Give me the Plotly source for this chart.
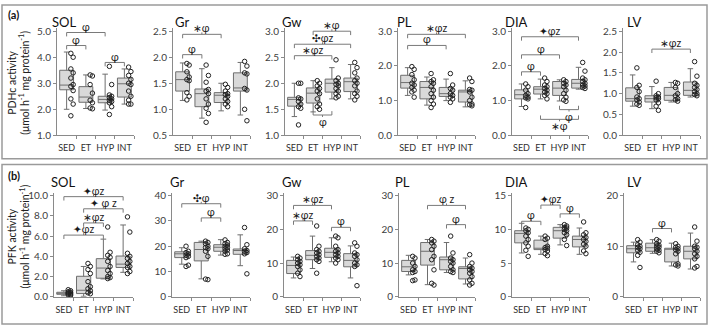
import plotly.graph_objects as go

W, H = 709, 332
GROUPS = ["SED", "ET", "HYP", "INT"]

# ---------------- (a) PDHc activity ----------------
SOL_A_Q1 = [2.75, 2.27, 2.25, 2.47]
SOL_A_MED = [2.93, 2.47, 2.38, 2.98]
SOL_A_Q3 = [3.50, 2.87, 2.50, 3.20]
SOL_A_LOW = [2.00, 2.03, 1.97, 2.20]
SOL_A_HIGH = [4.20, 3.32, 3.35, 3.55]
SOL_A_PTS = [[4.15, 4.0, 3.55, 3.4, 3.2, 2.95, 2.88, 2.72, 2.4, 2.2, 1.75],
             [3.32, 3.28, 2.95, 2.62, 2.35, 2.25, 2.05, 2.02],
             [3.65, 2.95, 2.55, 2.5, 2.45, 2.4, 2.35, 2.3, 2.25, 2.1, 1.8],
             [3.62, 3.45, 3.3, 3.15, 3.0, 2.95, 2.7, 2.5, 2.35, 2.2, 2.2]]
SOL_A_TICKS = [1.0, 2.0, 3.0, 4.0, 5.0]
SOL_A_BRK = [(0, 2, 4.95, "φ", 1), (0, 1, 4.45, "φ", 1), (2, 3, 3.80, "φ", 1)]

GR_A_Q1 = [1.35, 1.05, 1.13, 1.35]
GR_A_MED = [1.57, 1.30, 1.27, 1.41]
GR_A_Q3 = [1.72, 1.39, 1.32, 1.70]
GR_A_LOW = [1.17, 0.83, 0.97, 0.89]
GR_A_HIGH = [1.89, 1.78, 1.50, 1.90]
GR_A_PTS = [[1.88, 1.85, 1.72, 1.62, 1.57, 1.55, 1.32, 1.25, 1.18],
            [1.85, 1.65, 1.52, 1.38, 1.35, 1.3, 1.2, 1.1, 1.02, 0.92, 0.75],
            [1.48, 1.42, 1.35, 1.3, 1.28, 1.25, 1.2, 1.15, 1.1, 1.05],
            [1.92, 1.83, 1.7, 1.68, 1.4, 1.37, 1.0, 0.78]]
GR_A_TICKS = [0.5, 1.0, 1.5, 2.0, 2.5]
GR_A_BRK = [(0, 2, 2.44, "∗φ", 1), (0, 1, 2.05, "φ", 1)]

GW_A_Q1 = [1.56, 1.62, 1.83, 1.84]
GW_A_MED = [1.69, 1.81, 2.00, 2.03]
GW_A_Q3 = [1.73, 1.91, 2.08, 2.10]
GW_A_LOW = [1.36, 1.45, 1.70, 1.70]
GW_A_HIGH = [2.00, 2.05, 2.30, 2.36]
GW_A_PTS = [[2.0, 2.0, 1.72, 1.7, 1.65, 1.6, 1.55, 1.52, 1.2],
            [2.05, 2.0, 1.95, 1.9, 1.85, 1.8, 1.7, 1.6, 1.55, 1.5],
            [2.45, 2.1, 2.05, 2.0, 1.98, 1.95, 1.9, 1.85, 1.8, 1.75, 1.72],
            [2.4, 2.3, 2.2, 2.1, 2.05, 2.0, 1.95, 1.85, 1.8, 1.75, 1.68]]
GW_A_TICKS = [1.0, 1.5, 2.0, 2.5, 3.0]
GW_A_BRK = [(1, 3, 3.00, "∗φ", 1), (0, 3, 2.75, "✣φz", 1), (0, 2, 2.53, "∗φz", 1),
            (1, 2, 1.39, "φ", -1)]

PL_A_Q1 = [1.36, 1.05, 1.12, 0.96]
PL_A_MED = [1.52, 1.38, 1.20, 1.25]
PL_A_Q3 = [1.73, 1.55, 1.38, 1.30]
PL_A_LOW = [1.15, 0.87, 1.00, 0.82]
PL_A_HIGH = [1.95, 1.68, 1.62, 1.57]
PL_A_PTS = [[1.98, 1.9, 1.75, 1.6, 1.5, 1.45, 1.38, 1.3, 1.25, 1.1],
            [1.78, 1.6, 1.55, 1.5, 1.4, 1.3, 1.2, 1.1, 1.0, 0.9, 0.8],
            [1.78, 1.45, 1.35, 1.3, 1.2, 1.15, 1.1, 1.05, 0.95],
            [1.65, 1.55, 1.32, 1.3, 1.25, 1.1, 1.0, 0.9, 0.88, 0.85]]
PL_A_TICKS = [0.0, 1.0, 2.0, 3.0]
PL_A_BRK = [(0, 3, 2.91, "∗φz", 1), (0, 2, 2.59, "φ", 1)]

DIA_A_Q1 = [1.05, 1.19, 1.15, 1.36]
DIA_A_MED = [1.17, 1.33, 1.36, 1.50]
DIA_A_Q3 = [1.31, 1.40, 1.55, 1.61]
DIA_A_LOW = [0.83, 1.05, 0.99, 1.33]
DIA_A_HIGH = [1.48, 1.62, 1.60, 1.96]
DIA_A_PTS = [[1.48, 1.4, 1.3, 1.2, 1.15, 1.1, 1.08, 1.05, 0.8],
             [1.65, 1.55, 1.45, 1.4, 1.35, 1.3, 1.25, 1.2, 1.15, 1.05],
             [1.6, 1.55, 1.5, 1.45, 1.4, 1.3, 1.2, 1.1, 1.02, 0.98],
             [2.1, 1.85, 1.65, 1.6, 1.55, 1.5, 1.45, 1.42, 1.38, 1.35]]
DIA_A_TICKS = [0.0, 1.0, 2.0, 3.0]
DIA_A_BRK = [(0, 3, 2.84, "✦φz", 1), (0, 2, 2.32, "φ", 1), (0, 1, 1.83, "φ", 1),
             (2, 3, 0.74, "φ", -1), (1, 3, 0.46, "∗φ", -1)]

LV_A_Q1 = [0.82, 0.80, 0.84, 0.96]
LV_A_MED = [0.88, 0.88, 0.96, 1.08]
LV_A_Q3 = [1.14, 0.95, 1.15, 1.28]
LV_A_LOW = [0.70, 0.64, 0.80, 0.92]
LV_A_HIGH = [1.45, 1.17, 1.27, 1.60]
LV_A_PTS = [[1.62, 1.2, 1.15, 1.05, 0.92, 0.88, 0.85, 0.8, 0.75, 0.72],
            [1.3, 1.0, 0.95, 0.92, 0.9, 0.88, 0.85, 0.78, 0.7, 0.6],
            [1.27, 1.25, 1.15, 1.0, 0.95, 0.88, 0.85, 0.82],
            [1.77, 1.42, 1.25, 1.2, 1.15, 1.1, 1.05, 1.0, 0.98, 0.95]]
LV_A_TICKS = [0.0, 0.5, 1.0, 1.5, 2.0, 2.5]
LV_A_BRK = [(1, 3, 2.07, "∗φz", 1)]

# ---------------- (b) PFK activity ----------------
SOL_B_Q1 = [0.25, 0.32, 1.84, 2.90]
SOL_B_MED = [0.35, 0.65, 2.84, 3.23]
SOL_B_Q3 = [0.45, 2.03, 3.77, 4.03]
SOL_B_LOW = [0.10, 0.05, 1.77, 2.42]
SOL_B_HIGH = [0.60, 3.00, 5.70, 7.10]
SOL_B_PTS = [[0.7, 0.6, 0.5, 0.45, 0.4, 0.35, 0.3, 0.25, 0.2, 0.15],
             [3.3, 3.0, 2.7, 2.3, 1.5, 1.0, 0.8, 0.6, 0.4, 0.3],
             [6.9, 4.4, 4.1, 3.9, 3.5, 3.0, 2.6, 2.3, 2.0, 1.9, 1.8],
             [7.9, 6.4, 4.3, 4.0, 3.8, 3.5, 3.3, 3.0, 2.9, 2.5, 2.3]]
SOL_B_TICKS = [0.0, 2.0, 4.0, 6.0, 8.0, 10.0]
SOL_B_BRK = [(0, 3, 9.9, "✦φz", 1), (1, 3, 8.7, "✦ φ z", 1), (1, 2, 7.3, "∗φz", 1),
             (0, 2, 6.1, "✦φz", 1)]

GR_B_Q1 = [15.5, 14.2, 18.0, 16.8]
GR_B_MED = [17.0, 18.7, 19.6, 18.3]
GR_B_Q3 = [17.8, 21.5, 20.6, 18.9]
GR_B_LOW = [12.9, 7.1, 16.5, 12.3]
GR_B_HIGH = [19.4, 22.0, 22.6, 24.5]
GR_B_PTS = [[20.0, 18.0, 17.5, 17.0, 16.5, 16.0, 15.5, 12.5, 12.0],
            [22.0, 21.5, 21.0, 20.0, 19.5, 19.0, 18.0, 16.0, 7.0, 6.8],
            [22.5, 21.5, 21.0, 20.5, 20.0, 19.5, 19.0, 18.5, 18.0, 17.0, 16.8],
            [27.4, 20.6, 19.0, 18.3, 18.0, 17.5, 17.0, 9.1]]
GR_B_TICKS = [0, 10, 20, 30, 40]
GR_B_BRK = [(0, 2, 36.8, "✣φ", 1), (1, 2, 31.2, "φ", 1)]

GW_B_Q1 = [6.9, 11.0, 11.7, 8.9]
GW_B_MED = [9.3, 12.3, 13.2, 10.8]
GW_B_Q3 = [10.8, 13.7, 14.4, 12.8]
GW_B_LOW = [5.6, 8.4, 10.4, 5.6]
GW_B_HIGH = [11.8, 18.0, 17.5, 15.1]
GW_B_PTS = [[12.0, 11.5, 11.0, 10.5, 10.0, 9.5, 9.0, 8.0, 7.0, 6.0],
            [21.0, 15.0, 14.0, 13.5, 13.0, 12.5, 12.0, 11.5, 11.0, 10.5, 7.0],
            [18.0, 17.5, 15.0, 14.0, 13.5, 13.0, 12.5, 12.0, 11.5, 11.0, 10.0],
            [16.0, 15.0, 13.0, 12.5, 12.0, 11.0, 10.0, 9.5, 9.0, 3.3]]
GW_B_TICKS = [0, 10, 20, 30]
GW_B_BRK = [(0, 2, 27.1, "∗φz", 1), (0, 1, 22.5, "∗φz", 1), (2, 3, 20.6, "φ", 1)]

PL_B_Q1 = [7.5, 9.4, 8.0, 5.3]
PL_B_MED = [8.9, 13.5, 11.0, 8.4]
PL_B_Q3 = [10.8, 16.1, 11.8, 8.9]
PL_B_LOW = [6.5, 3.6, 7.2, 3.8]
PL_B_HIGH = [12.3, 17.0, 16.1, 11.5]
PL_B_PTS = [[12.0, 11.5, 10.0, 9.0, 8.0, 7.5, 7.2, 5.0, 4.8],
            [17.0, 16.5, 16.0, 15.0, 14.0, 12.0, 11.0, 8.0, 4.0, 3.5],
            [18.0, 13.0, 11.5, 11.0, 10.5, 10.0, 9.0, 8.0, 7.5, 7.2],
            [12.5, 10.0, 9.0, 8.5, 8.0, 7.5, 7.0, 6.0, 5.0, 4.0, 3.5]]
PL_B_TICKS = [0, 10, 20, 30]
PL_B_BRK = [(1, 3, 27.1, "φ z", 1), (2, 3, 21.4, "φ", 1)]

DIA_B_Q1 = [8.0, 7.0, 8.7, 7.4]
DIA_B_MED = [9.4, 7.2, 9.8, 8.5]
DIA_B_Q3 = [9.8, 8.4, 10.3, 9.0]
DIA_B_LOW = [6.5, 6.3, 7.7, 6.3]
DIA_B_HIGH = [10.9, 9.0, 10.7, 10.2]
DIA_B_PTS = [[10.2, 10.0, 9.8, 9.5, 9.0, 8.5, 8.0, 7.5, 6.9, 6.0],
             [9.0, 8.7, 8.5, 7.5, 7.3, 7.2, 7.0, 6.8, 6.4, 6.1],
             [10.7, 10.5, 10.3, 10.2, 10.0, 9.8, 9.5, 9.2, 8.5, 7.6],
             [11.1, 9.5, 9.2, 8.8, 8.5, 8.2, 7.8, 7.5, 6.8, 6.4]]
DIA_B_TICKS = [0, 5, 10, 15]
DIA_B_BRK = [(0, 1, 11.2, "φ", 1), (1, 2, 13.6, "✦φz", 1), (2, 3, 12.3, "φ", 1)]

LV_B_Q1 = [8.7, 9.0, 6.9, 7.5]
LV_B_MED = [9.5, 9.7, 9.4, 9.0]
LV_B_Q3 = [10.1, 10.6, 9.6, 10.0]
LV_B_LOW = [6.9, 8.6, 6.1, 5.5]
LV_B_HIGH = [10.8, 11.3, 10.6, 12.6]
LV_B_PTS = [[11.3, 10.8, 10.3, 10.0, 9.8, 9.5, 9.2, 8.8, 8.2, 5.8],
            [11.3, 11.0, 10.5, 10.2, 10.0, 9.8, 9.5, 9.2, 9.0, 8.7],
            [10.5, 10.0, 9.8, 9.5, 9.3, 9.0, 8.5, 6.5, 6.3, 6.1],
            [13.8, 11.0, 10.0, 9.8, 9.5, 9.0, 8.5, 8.0, 7.5, 6.0, 5.7]]
LV_B_TICKS = [0, 10, 20]
LV_B_BRK = [(1, 2, 13.5, "φ", 1)]

SUBPLOTS = [
    ("a", "SOL", SOL_A_Q1, SOL_A_MED, SOL_A_Q3, SOL_A_LOW, SOL_A_HIGH, SOL_A_PTS, SOL_A_TICKS, ".1f", SOL_A_BRK),
    ("a", "Gr", GR_A_Q1, GR_A_MED, GR_A_Q3, GR_A_LOW, GR_A_HIGH, GR_A_PTS, GR_A_TICKS, ".1f", GR_A_BRK),
    ("a", "Gw", GW_A_Q1, GW_A_MED, GW_A_Q3, GW_A_LOW, GW_A_HIGH, GW_A_PTS, GW_A_TICKS, ".1f", GW_A_BRK),
    ("a", "PL", PL_A_Q1, PL_A_MED, PL_A_Q3, PL_A_LOW, PL_A_HIGH, PL_A_PTS, PL_A_TICKS, ".1f", PL_A_BRK),
    ("a", "DIA", DIA_A_Q1, DIA_A_MED, DIA_A_Q3, DIA_A_LOW, DIA_A_HIGH, DIA_A_PTS, DIA_A_TICKS, ".1f", DIA_A_BRK),
    ("a", "LV", LV_A_Q1, LV_A_MED, LV_A_Q3, LV_A_LOW, LV_A_HIGH, LV_A_PTS, LV_A_TICKS, ".1f", LV_A_BRK),
    ("b", "SOL", SOL_B_Q1, SOL_B_MED, SOL_B_Q3, SOL_B_LOW, SOL_B_HIGH, SOL_B_PTS, SOL_B_TICKS, ".1f", SOL_B_BRK),
    ("b", "Gr", GR_B_Q1, GR_B_MED, GR_B_Q3, GR_B_LOW, GR_B_HIGH, GR_B_PTS, GR_B_TICKS, "d", GR_B_BRK),
    ("b", "Gw", GW_B_Q1, GW_B_MED, GW_B_Q3, GW_B_LOW, GW_B_HIGH, GW_B_PTS, GW_B_TICKS, "d", GW_B_BRK),
    ("b", "PL", PL_B_Q1, PL_B_MED, PL_B_Q3, PL_B_LOW, PL_B_HIGH, PL_B_PTS, PL_B_TICKS, "d", PL_B_BRK),
    ("b", "DIA", DIA_B_Q1, DIA_B_MED, DIA_B_Q3, DIA_B_LOW, DIA_B_HIGH, DIA_B_PTS, DIA_B_TICKS, "d", DIA_B_BRK),
    ("b", "LV", LV_B_Q1, LV_B_MED, LV_B_Q3, LV_B_LOW, LV_B_HIGH, LV_B_PTS, LV_B_TICKS, "d", LV_B_BRK),
]

# ---------------- layout (pixels) ----------------
X_PX = {"a": [(57, 134), (173, 250), (285, 360), (398, 475), (512, 588), (623, 700)],
        "b": [(54, 133), (172, 250), (284, 360), (399, 475), (512, 589), (624, 700)]}
Y_PX = {"a": (29, 136), "b": (198, 302)}
TITLE_X = {"a": [50, 173, 280, 395, 503, 625], "b": [49, 168, 280, 393, 503, 625]}
TITLE_Y = {"a": 20, "b": 184}

FONT = "Lato, 'Open Sans', 'DejaVu Sans', sans-serif"
AX = "#8a8a8a"
TXT = "#404040"


def px(x):
    return x / W


def py(y):
    return 1 - y / H


fig = go.Figure()
axes = {}
shapes = []
annotations = []

for k, sp in enumerate(SUBPLOTS, start=1):
    panel, name, q1, med, q3, lo, hi, pts, ticks, tfmt, brks = sp
    idx = (k - 1) % 6
    x0, x1 = X_PX[panel][idx]
    ytop, ybot = Y_PX[panel]
    ymin, ymax = ticks[0], ticks[-1]
    span = ymax - ymin
    pad = 0.03
    ytop_ext = ytop - pad * (ybot - ytop)
    xr, yr = f"x{k}", f"y{k}"

    fig.add_trace(go.Box(
        x=[0, 1, 2, 3], q1=q1, median=med, q3=q3, lowerfence=lo, upperfence=hi,
        width=0.72, whiskerwidth=0.4, boxpoints=False,
        fillcolor="#d9d9d9", line=dict(color="#6e6e6e", width=1),
        xaxis=xr, yaxis=yr, hoverinfo="skip"))

    xs, ys = [], []
    for i, vals in enumerate(pts):
        for j, v in enumerate(sorted(vals, reverse=True)):
            xs.append(i + (0.22 if j % 2 == 0 else 0.34))
            ys.append(v)
    fig.add_trace(go.Scatter(
        x=xs, y=ys, mode="markers", cliponaxis=False,
        marker=dict(symbol="circle-open", size=4.5, color="#222222", line=dict(width=1)),
        xaxis=xr, yaxis=yr, hoverinfo="skip"))

    axes[f"xaxis{k}"] = dict(
        domain=[px(x0), px(x1)], anchor=yr, range=[-0.5, 3.5],
        tickmode="array", tickvals=[0, 1, 2, 3], ticktext=GROUPS, ticks="",
        tickangle=0, ticklabelstandoff=4,
        showline=True, linecolor=AX, linewidth=1, showgrid=False, zeroline=False,
        tickfont=dict(size=9, color="#303030", family=FONT),
        minor=dict(tickmode="array", tickvals=[0.5, 1.5, 2.5, 3.5], ticks="outside",
                   ticklen=3, tickcolor=AX, tickwidth=1, showgrid=False),
        fixedrange=True)
    axes[f"yaxis{k}"] = dict(
        domain=[py(ybot), py(ytop_ext)], anchor=xr, range=[ymin, ymax + pad * span],
        tickmode="array", tickvals=ticks, tickformat=tfmt, ticks="outside",
        ticklen=3, tickcolor=AX, tickwidth=1, showline=True, linecolor=AX, linewidth=1,
        showgrid=False, zeroline=False,
        tickfont=dict(size=10, color=TXT, family=FONT), fixedrange=True)

    ppu = (ybot - ytop) / span
    drop = 4 / ppu
    tk = 2 / ppu
    for (i1, i2, yb, label, s) in brks:
        xm = (i1 + i2) / 2
        path = (f"M {i1},{yb - s * drop} L {i1},{yb} L {i2},{yb} L {i2},{yb - s * drop} "
                f"M {xm},{yb} L {xm},{yb + s * tk}")
        shapes.append(dict(type="path", path=path, xref=xr, yref=yr,
                           line=dict(color="#7a7a7a", width=1)))
        annotations.append(dict(
            x=xm, y=yb + s * tk, xref=xr, yref=yr, text=label, showarrow=False,
            xanchor="center", yanchor="bottom" if s > 0 else "top",
            yshift=-3 if s > 0 else 2, borderpad=0,
            font=dict(size=10.5, color="#1a1a1a", family=FONT)))

    annotations.append(dict(
        x=px(TITLE_X[panel][idx]), y=py(TITLE_Y[panel]), xref="paper", yref="paper",
        text=name, showarrow=False, xanchor="left", yanchor="middle",
        font=dict(size=13, color="#111111", family=FONT)))

# panel frames
for (top, bot) in [(2, 160), (166, 330)]:
    shapes.append(dict(type="rect", xref="paper", yref="paper",
                       x0=px(2), x1=px(707), y0=py(bot), y1=py(top),
                       line=dict(color="#9a9a9a", width=1.5), fillcolor="rgba(0,0,0,0)"))

# panel letters
annotations.append(dict(x=px(6), y=py(12), xref="paper", yref="paper", text="<b>(a)</b>",
                        showarrow=False, xanchor="left", yanchor="middle",
                        font=dict(size=11, color="#111111", family=FONT)))
annotations.append(dict(x=px(6), y=py(177), xref="paper", yref="paper", text="<b>(b)</b>",
                        showarrow=False, xanchor="left", yanchor="middle",
                        font=dict(size=11, color="#111111", family=FONT)))

# y-axis titles
UNIT = "(μmol h<sup>-1</sup> mg protein<sup>-1</sup>)"
for (label, yc) in [("PDHc activity", 82), ("PFK activity", 240)]:
    annotations.append(dict(x=px(12), y=py(yc), xref="paper", yref="paper", text=label,
                            textangle=-90, showarrow=False, xanchor="center", yanchor="middle",
                            font=dict(size=10.5, color="#222222", family=FONT)))
    annotations.append(dict(x=px(24), y=py(yc), xref="paper", yref="paper", text=UNIT,
                            textangle=-90, showarrow=False, xanchor="center", yanchor="middle",
                            font=dict(size=10.5, color="#222222", family=FONT)))

fig.update_layout(
    width=W, height=H, margin=dict(l=0, r=0, t=0, b=0),
    paper_bgcolor="white", plot_bgcolor="white", showlegend=False,
    font=dict(family=FONT, size=10, color=TXT),
    shapes=shapes, annotations=annotations, **axes)

fig.write_html("out.html", config={"displayModeBar": False, "staticPlot": True},
               post_script="document.body.style.margin='0';"
                           "document.body.style.overflow='hidden';")
